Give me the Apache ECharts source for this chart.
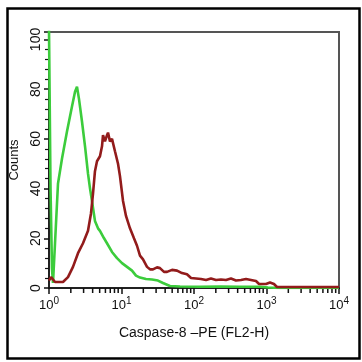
<!DOCTYPE html>
<html>
<head>
<meta charset="utf-8">
<script src="https://cdn.jsdelivr.net/npm/echarts@6/dist/echarts.min.js"></script>
<style>
html,body{margin:0;padding:0;background:#fff;}
#chart{width:362px;height:362px;}
</style>
</head>
<body>
<div id="chart"></div>
<script>
// FL2-H positions as decade exponents (10^e)
const greenLogX = [0, 0.021, 0.041, 0.055, 0.083, 0.124, 0.179, 0.248, 0.317, 0.359, 0.386, 0.414, 0.455, 0.497, 0.538, 0.566, 0.593, 0.634, 0.676, 0.703, 0.759, 0.800, 0.869, 0.938, 1.007, 1.076, 1.145, 1.200, 1.255, 1.338, 1.421, 1.503, 1.572, 1.669, 1.807, 2.083, 2.359, 2.634, 2.910, 3.021, 3.186, 4];
const greenCounts = [104, 40, 8, 2, 18, 42, 52, 63, 73, 79, 81, 76, 67, 57, 46, 40, 35, 27, 24, 23, 20, 18, 14.5, 12, 10, 8.5, 7, 5, 4.2, 3.6, 3.4, 3, 2, 0.8, 0.6, 0.5, 0.6, 0.5, 0.5, 0.2, 0, 0];
const redLogX = [0, 0.028, 0.083, 0.193, 0.262, 0.331, 0.400, 0.469, 0.538, 0.579, 0.607, 0.634, 0.662, 0.703, 0.731, 0.745, 0.772, 0.800, 0.814, 0.841, 0.869, 0.910, 0.952, 0.979, 1.021, 1.062, 1.117, 1.172, 1.214, 1.255, 1.297, 1.352, 1.393, 1.434, 1.490, 1.531, 1.586, 1.628, 1.697, 1.766, 1.834, 1.903, 1.959, 2.028, 2.097, 2.166, 2.234, 2.303, 2.372, 2.441, 2.510, 2.579, 2.648, 2.717, 2.786, 2.855, 2.897, 2.993, 3.048, 3.103, 3.145, 4];
const redCounts = [3, 4.4, 2.4, 2.4, 4.4, 8.5, 14, 18, 23, 30, 38, 47, 51, 53, 57, 61.5, 59, 61.5, 62.5, 59, 60, 55, 50, 45, 35, 29, 24, 20, 17, 13, 11.5, 8.5, 7.5, 7.5, 8.3, 8, 6.5, 6.5, 7.3, 7, 6, 5.5, 4, 3.8, 3.6, 3.2, 3.8, 3.2, 3.4, 3.2, 3.8, 3, 3.2, 3.6, 3.2, 2.8, 1.6, 1.6, 2.2, 1.6, 0.4, 0.4];
const yTicks = [0, 20, 40, 60, 80, 100];
const xDecades = [0, 1, 2, 3, 4];
const minorMultipliers = [2, 3, 4, 5, 6, 7, 8, 9];

const FONT = '"Liberation Sans", Arial, sans-serif';
const toPairs = (lx, ys) => lx.map((e, i) => [Math.pow(10, e), ys[i]]);
const minorTickValues = [];
xDecades.slice(0, -1).forEach(k => minorMultipliers.forEach(m => minorTickValues.push([m * Math.pow(10, k), 0])));

const chart = echarts.init(document.getElementById('chart'), null, {renderer: 'canvas'});
chart.setOption({
  animation: false,
  backgroundColor: '#fff',
  graphic: [{
    type: 'rect', left: 5, top: 6,
    shape: {width: 352, height: 350},
    style: {fill: 'none', stroke: '#000', lineWidth: 2.5},
    z: 100
  }],
  grid: {
    left: 49, right: 23, top: 32, bottom: 74,
    show: true, borderColor: '#555', borderWidth: 2,
    containLabel: false, outerBoundsMode: 'none'
  },
  xAxis: {
    type: 'log', logBase: 10, min: 1, max: 10000,
    name: 'Caspase-8 \u2013PE (FL2-H)', nameLocation: 'middle', nameGap: 38,
    nameTextStyle: {fontFamily: FONT, fontSize: 14, color: '#111'},
    axisLine: {show: true, onZero: false, lineStyle: {color: '#111', width: 1.5}},
    axisTick: {show: true, length: 6, lineStyle: {color: '#111', width: 1.5}},
    splitLine: {show: false},
    axisLabel: {
      margin: 8, color: '#111', fontFamily: FONT,
      formatter: v => {
        const k = Math.round(Math.log10(v));
        return xDecades.indexOf(k) >= 0 ? '{b|10}{s|' + k + '}' : '';
      },
      rich: {
        b: {fontSize: 13, fontFamily: FONT, color: '#111'},
        s: {fontSize: 10, fontFamily: FONT, color: '#111', padding: [0, 0, 9, 0]}
      }
    }
  },
  yAxis: {
    type: 'value', min: 0, max: 103, interval: 20,
    name: 'Counts', nameLocation: 'middle', nameGap: 25, nameRotate: 90,
    nameTextStyle: {fontFamily: FONT, fontSize: 13, color: '#111'},
    axisLine: {show: true, lineStyle: {color: '#111', width: 1.5}},
    axisTick: {show: true, length: 5, lineStyle: {color: '#111', width: 1.5}},
    minorTick: {show: true, splitNumber: 5, length: 4, lineStyle: {color: '#111', width: 1.2}},
    splitLine: {show: false},
    axisLabel: {
      rotate: 90, margin: 6, color: '#111', fontFamily: FONT, fontSize: 14,
      formatter: v => (yTicks.indexOf(v) >= 0 ? String(v) : '')
    }
  },
  series: [
    {
      type: 'custom', silent: true, clip: false, z: 3,
      data: minorTickValues,
      renderItem: (params, api) => {
        const p = api.coord([api.value(0), api.value(1)]);
        return {
          type: 'line',
          shape: {x1: p[0], y1: p[1], x2: p[0], y2: p[1] + 5},
          style: {stroke: '#111', lineWidth: 1.5}
        };
      }
    },
    {
      type: 'line', data: toPairs(greenLogX, greenCounts), showSymbol: false, symbol: 'none',
      lineStyle: {color: '#3ccc3c', width: 2.6}, z: 4, clip: true
    },
    {
      type: 'line', data: toPairs(redLogX, redCounts), showSymbol: false, symbol: 'none',
      lineStyle: {color: '#921b1b', width: 2.6}, z: 5, clip: true
    }
  ]
});
</script>
</body>
</html>
